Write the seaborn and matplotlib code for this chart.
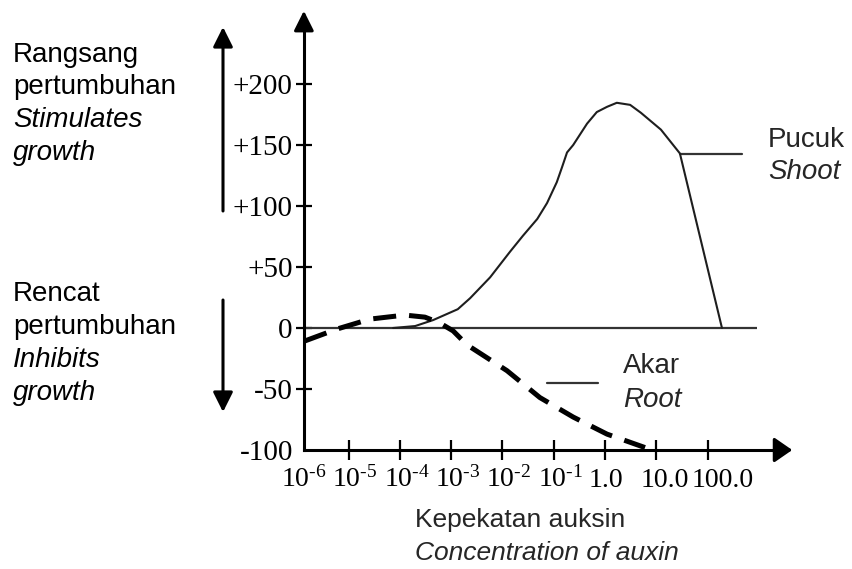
import numpy as np
import pandas as pd
import matplotlib
matplotlib.use("Agg")
import matplotlib.pyplot as plt
import matplotlib.transforms as mtransforms
import seaborn as sns

# ---- data (log10 of auxin concentration, growth response) ----
shoot_logc = [-4.13, -3.70, -3.35, -2.87, -2.63, -2.24, -1.85, -1.60, -1.32,
              -1.13, -0.94, -0.84, -0.74, -0.62, -0.35, -0.16, 0.04, 0.23,
              0.49, 0.70, 1.09, 1.46, 2.28]
shoot_resp = [0, 1.6, 6.5, 15.4, 24.4, 41.5, 62.6, 75.6, 89.4,
              102.4, 119.5, 131.5, 143.9, 150.0, 167.5, 177.0, 181.3, 184.6,
              182.9, 176.4, 162.6, 143.1, 0]
root_logc = [-5.85, -5.22, -4.58, -3.90, -3.51, -3.22, -2.96, -2.69, -1.91,
             -1.27, -0.62, 0.04, 0.78]
root_resp = [-10.6, -0.8, 7.3, 10.6, 8.9, 4.1, -2.4, -13.8, -35,
             -57, -73, -87, -98]
xtick_exp = [-6, -5, -4, -3, -2, -1, 0, 1, 2]
xtick_labels = [r"$10^{\text{-6}}$", r"$10^{\text{-5}}$", r"$10^{\text{-4}}$",
                r"$10^{\text{-3}}$", r"$10^{\text{-2}}$", r"$10^{\text{-1}}$",
                "1.0", "10.0", "100.0"]
ytick_vals = [-100, -50, 0, 50, 100, 150, 200]
ytick_labels = ["-100", "-50", "0", "+50", "+100", "+150", "+200"]

shoot = pd.DataFrame({"conc": 10.0 ** np.array(shoot_logc), "resp": shoot_resp})
root = pd.DataFrame({"conc": 10.0 ** np.array(root_logc), "resp": root_resp})

sns.set_theme(style="white")
plt.rcParams["font.family"] = ["Liberation Sans", "DejaVu Sans"]
plt.rcParams["mathtext.fontset"] = "custom"
plt.rcParams["mathtext.rm"] = "Liberation Serif"
plt.rcParams["mathtext.it"] = "Liberation Serif:italic"

W, H = 853, 569
fig = plt.figure(figsize=(W / 100, H / 100), dpi=100)
ax = fig.add_axes([0, 0, 1, 1])
ax.set_facecolor("white")

def fx(p):
    return p / W

def fy(p):
    return 1 - p / H

# pixel mapping: x_px = 605 + 51.3*log10(c) ; y_px = 328 - 1.22*resp
ax.set_xscale("log")
ax.set_xlim(10 ** (-605 / 51.3), 10 ** ((W - 605) / 51.3))
ax.set_ylim((328 - H) / 1.22, 328 / 1.22)

x0 = 10 ** -5.87
xend = 10 ** 3.65
ytop = 260

# zero line
ax.hlines(0, x0, 10 ** 2.96, color="#333333", lw=1.6, zorder=2)

sns.lineplot(data=shoot, x="conc", y="resp", ax=ax, color="#1e1e1e", lw=1.5,
             sort=False, zorder=3)
sns.lineplot(data=root, x="conc", y="resp", ax=ax, color="black", lw=3.6,
             sort=False, zorder=4, linestyle=(0, (4.6, 2.6)))

# axes spines
for s in ["top", "right"]:
    ax.spines[s].set_visible(False)
ax.spines["left"].set_position(("data", x0))
ax.spines["bottom"].set_position(("data", -100))
ax.spines["left"].set_bounds(-100, ytop - 8)
ax.spines["bottom"].set_bounds(x0, 10 ** 3.4)
for s in ["left", "bottom"]:
    ax.spines[s].set_linewidth(2.2)
    ax.spines[s].set_color("black")

ax.annotate("", xy=(x0, ytop), xytext=(x0, ytop - 14),
            arrowprops=dict(arrowstyle="-|>,head_length=0.6,head_width=0.3",
                            color="black", lw=2.2, mutation_scale=20,
                            shrinkA=0, shrinkB=0))
ax.annotate("", xy=(xend, -100), xytext=(10 ** 3.3, -100),
            arrowprops=dict(arrowstyle="-|>,head_length=0.55,head_width=0.38",
                            color="black", lw=2.2, mutation_scale=20,
                            shrinkA=0, shrinkB=0))

# ticks
ax.set_xticks([10.0 ** e for e in xtick_exp])
ax.set_xticklabels(xtick_labels)
ax.xaxis.set_minor_locator(matplotlib.ticker.NullLocator())
ax.set_yticks(ytick_vals)
ax.set_yticklabels(ytick_labels)
ax.tick_params(axis="x", which="major", direction="inout", length=14,
               width=1.6, color="black", pad=19.5, labelsize=20, bottom=True)
ax.tick_params(axis="y", which="major", direction="inout", length=12,
               width=1.6, color="black", pad=2, labelsize=21, left=True)
for lab in ax.get_xticklabels() + ax.get_yticklabels():
    lab.set_fontfamily("Liberation Serif")
    lab.set_color("black")
offset = mtransforms.ScaledTranslation(-16 / 100, 0, fig.dpi_scale_trans)
for lab in ax.get_xticklabels():
    lab.set_transform(lab.get_transform() + offset)
    lab.set_ha("left")
    lab.set_va("baseline")
# hide tick marks hidden by the axes corner
xt = ax.xaxis.get_major_ticks()
xt[0].tick1line.set_visible(False)
yt = ax.yaxis.get_major_ticks()
yt[0].tick1line.set_visible(False)
ax.set_xlabel("")
ax.set_ylabel("")
ax.grid(False)

# left side annotations
fs = 20
left_up = [("Rangsang", "normal", 62), ("pertumbuhan", "normal", 94),
           ("Stimulates", "italic", 127), ("growth", "italic", 160)]
left_dn = [("Rencat", "normal", 301), ("pertumbuhan", "normal", 334),
           ("Inhibits", "italic", 367), ("growth", "italic", 400)]
for txt, st, yb in left_up + left_dn:
    ax.text(fx(13), fy(yb), txt, transform=ax.transAxes, fontsize=fs,
            style=st, va="baseline", ha="left", color="black")

ax.annotate("", xy=(fx(223), fy(27)), xytext=(fx(223), fy(211)),
            xycoords="axes fraction", textcoords="axes fraction",
            arrowprops=dict(arrowstyle="-|>,head_length=0.6,head_width=0.3",
                            color="black", lw=2.2, mutation_scale=20,
                            shrinkA=0, shrinkB=0))
ax.annotate("", xy=(fx(223), fy(412)), xytext=(fx(223), fy(300)),
            xycoords="axes fraction", textcoords="axes fraction",
            arrowprops=dict(arrowstyle="-|>,head_length=0.6,head_width=0.3",
                            color="black", lw=2.2, mutation_scale=20,
                            shrinkA=0, shrinkB=0))

# curve labels
ax.plot([fx(680), fx(742)], [fy(154), fy(154)], transform=ax.transAxes,
        color="#333333", lw=1.6)
ax.text(fx(768), fy(147), "Pucuk", transform=ax.transAxes, fontsize=fs,
        va="baseline", ha="left")
ax.text(fx(768), fy(179), "Shoot", transform=ax.transAxes, fontsize=fs,
        style="italic", va="baseline", ha="left")

ax.plot([fx(547), fx(598)], [fy(383), fy(383)], transform=ax.transAxes,
        color="#333333", lw=1.6)
ax.text(fx(623), fy(373), "Akar", transform=ax.transAxes, fontsize=fs,
        va="baseline", ha="left")
ax.text(fx(623), fy(407), "Root", transform=ax.transAxes, fontsize=fs,
        style="italic", va="baseline", ha="left")

# x-axis title
ax.text(fx(415), fy(527), "Kepekatan auksin", transform=ax.transAxes,
        fontsize=19, va="baseline", ha="left")
ax.text(fx(415), fy(560), "Concentration of auxin", transform=ax.transAxes,
        fontsize=19, style="italic", va="baseline", ha="left")

fig.savefig("out.png", dpi=100, facecolor="white")
